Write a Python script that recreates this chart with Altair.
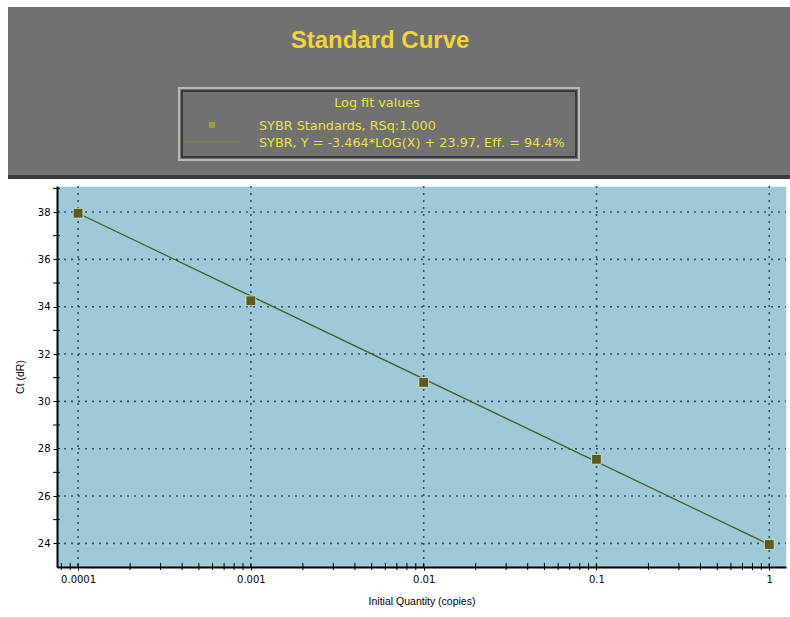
import altair as alt
import pandas as pd

# Data
quantity = [0.0001, 0.001, 0.01, 0.1, 1]
ct = [37.95, 34.25, 30.8, 27.55, 23.95]

title_text = "Standard Curve"
legend_title = "Log fit values"
legend_items = ["SYBR Standards, RSq:1.000", "SYBR, Y = -3.464*LOG(X) + 23.97, Eff. = 94.4%"]
x_title = "Initial Quantity (copies)"
y_title = "Ct (dR)"

x_major = [0.0001, 0.001, 0.01, 0.1, 1]
x_minor = [0.00008, 0.00009,
           0.0002, 0.0003, 0.0004, 0.0005, 0.0006, 0.0007, 0.0008, 0.0009,
           0.002, 0.003, 0.004, 0.005, 0.006, 0.007, 0.008, 0.009,
           0.02, 0.03, 0.04, 0.05, 0.06, 0.07, 0.08, 0.09,
           0.2, 0.3, 0.4, 0.5, 0.6, 0.7, 0.8, 0.9]
y_major = [24, 26, 28, 30, 32, 34, 36, 38]
y_minor = [25, 27, 29, 31, 33, 35, 37, 39]

pts = pd.DataFrame({"q": quantity, "ct": ct})
fit = pd.DataFrame({"q": [quantity[0], quantity[-1]], "ct": [ct[0], ct[-1]]})
xt = pd.DataFrame({"v": x_minor + x_major})
xm = pd.DataFrame({"v": x_minor})
xg = pd.DataFrame({"v": x_major})
yt = pd.DataFrame({"v": y_minor + y_major})
ym = pd.DataFrame({"v": y_minor})
yg = pd.DataFrame({"v": y_major})

W, H = 729, 381
PL, PT = 57, 186

xscale = alt.Scale(type="log", domain=[7.55e-5, 1.25], nice=False)
yscale = alt.Scale(domain=[23, 39.1], nice=False, zero=False)

font = "DejaVu Sans"
afont = "Liberation Sans"
GRID = "#35525f"

x_axis = alt.Axis(
    values=x_major, format="~g", title=x_title, titleFont=afont, titleFontSize=10.5,
    titleFontWeight="normal", titleColor="#000", titlePadding=12, labelFont=font,
    labelFontSize=10, labelColor="#000", labelPadding=4,
    domainColor="#000", domainWidth=2, tickColor="#000", tickSize=3, grid=False,
    labelFlush=False, labelOverlap=False,
)
y_axis = alt.Axis(
    values=y_major, format="d", title=y_title, titleFont=afont, titleFontSize=10.5,
    titleFontWeight="normal", titleColor="#000", titlePadding=12, labelFont=font,
    labelFontSize=10, labelColor="#000", labelPadding=3,
    domainColor="#000", domainWidth=2, tickColor="#000", tickSize=4, grid=False,
    labelOverlap=False,
)

xgrid = alt.Chart(xg).mark_rule(color=GRID, strokeDash=[2, 5], strokeWidth=1.6).encode(
    x=alt.X("v:Q", scale=xscale, axis=x_axis), y=alt.value(0), y2=alt.value(H))
ygrid = alt.Chart(yg).mark_rule(color=GRID, strokeDash=[2, 5], strokeWidth=1.6).encode(
    y=alt.Y("v:Q", scale=yscale, axis=y_axis), x=alt.value(0), x2=alt.value(W))
# inner tick marks (all ticks) and outer minor tick marks
xin = alt.Chart(xt).mark_rule(color="#000", strokeWidth=1).encode(
    x=alt.X("v:Q", scale=xscale), y=alt.value(H - 4), y2=alt.value(H))
xout = alt.Chart(xm).mark_rule(color="#000", strokeWidth=1, clip=False).encode(
    x=alt.X("v:Q", scale=xscale), y=alt.value(H), y2=alt.value(H + 3))
yin = alt.Chart(yt).mark_rule(color="#000", strokeWidth=1).encode(
    y=alt.Y("v:Q", scale=yscale), x=alt.value(0), x2=alt.value(3))
yout = alt.Chart(ym).mark_rule(color="#000", strokeWidth=1, clip=False).encode(
    y=alt.Y("v:Q", scale=yscale), x=alt.value(-4), x2=alt.value(0))

line = alt.Chart(fit).mark_line(color="#4a5a20", strokeWidth=1.2).encode(
    x=alt.X("q:Q", scale=xscale),
    y=alt.Y("ct:Q", scale=yscale),
)
points = alt.Chart(pts).mark_point(shape="square", filled=True, size=95, color="#5c5a1e",
                                   stroke="#d8e8c8", strokeWidth=0.8, opacity=1).encode(
    x=alt.X("q:Q", scale=xscale),
    y=alt.Y("ct:Q", scale=yscale),
)

one = pd.DataFrame({"a": [0]})
base = alt.Chart(one)

header = base.mark_rect(color="#717171", clip=False).encode(
    x=alt.value(8 - PL), x2=alt.value(790 - PL), y=alt.value(7 - PT), y2=alt.value(176 - PT))
header_shadow = base.mark_rect(color="#3c3c3c", clip=False).encode(
    x=alt.value(8 - PL), x2=alt.value(790 - PL), y=alt.value(175 - PT), y2=alt.value(179 - PT))
title = base.mark_text(text=title_text, font=afont, fontSize=24, fontWeight="bold", color="#f2d43a",
                       align="center", baseline="middle").encode(
    x=alt.value(380 - PL), y=alt.value(41 - PT))
box_outer = base.mark_rect(fill="#717171", stroke="#b8b8b8", strokeWidth=2).encode(
    x=alt.value(179 - PL), x2=alt.value(579 - PL), y=alt.value(88 - PT), y2=alt.value(160 - PT))
box_inner = base.mark_rect(fill="#717171", stroke="#2a2a2a", strokeWidth=1.5).encode(
    x=alt.value(182 - PL), x2=alt.value(576 - PL), y=alt.value(91 - PT), y2=alt.value(157 - PT))
lg_title = base.mark_text(text=legend_title, font=font, fontSize=12.8, color="#e8e040",
                          align="center", baseline="middle").encode(
    x=alt.value(377 - PL), y=alt.value(103 - PT))
lg_item1 = base.mark_text(text=legend_items[0], font=font, fontSize=12.8, color="#e8e040",
                          align="left", baseline="middle").encode(
    x=alt.value(259 - PL), y=alt.value(126 - PT))
lg_item2 = base.mark_text(text=legend_items[1], font=font, fontSize=12.8, color="#e8e040",
                          align="left", baseline="middle").encode(
    x=alt.value(259 - PL), y=alt.value(143 - PT))
lg_sym = base.mark_square(size=40, color="#9a9a48", opacity=1).encode(
    x=alt.value(212 - PL), y=alt.value(125 - PT))
lg_line = base.mark_rule(color="#8a8a40", strokeWidth=1).encode(
    x=alt.value(184 - PL), x2=alt.value(240 - PL), y=alt.value(142 - PT))

chart = alt.layer(
    xgrid, ygrid, xin, xout, yin, yout, line, points, header, header_shadow, title,
    box_outer, box_inner, lg_title, lg_item1, lg_item2, lg_sym, lg_line,
).properties(
    width=W, height=H,
    autosize=alt.AutoSizeParams(type="none"),
    padding={"left": PL, "top": PT, "right": 790 - PL - W, "bottom": 617 - PT - H},
    background="#ffffff",
).configure_view(
    fill="#9dc9d8", stroke="#e8f0f4", strokeWidth=1,
)

chart.save("out.html", embed_options={"renderer": "svg", "actions": False})
